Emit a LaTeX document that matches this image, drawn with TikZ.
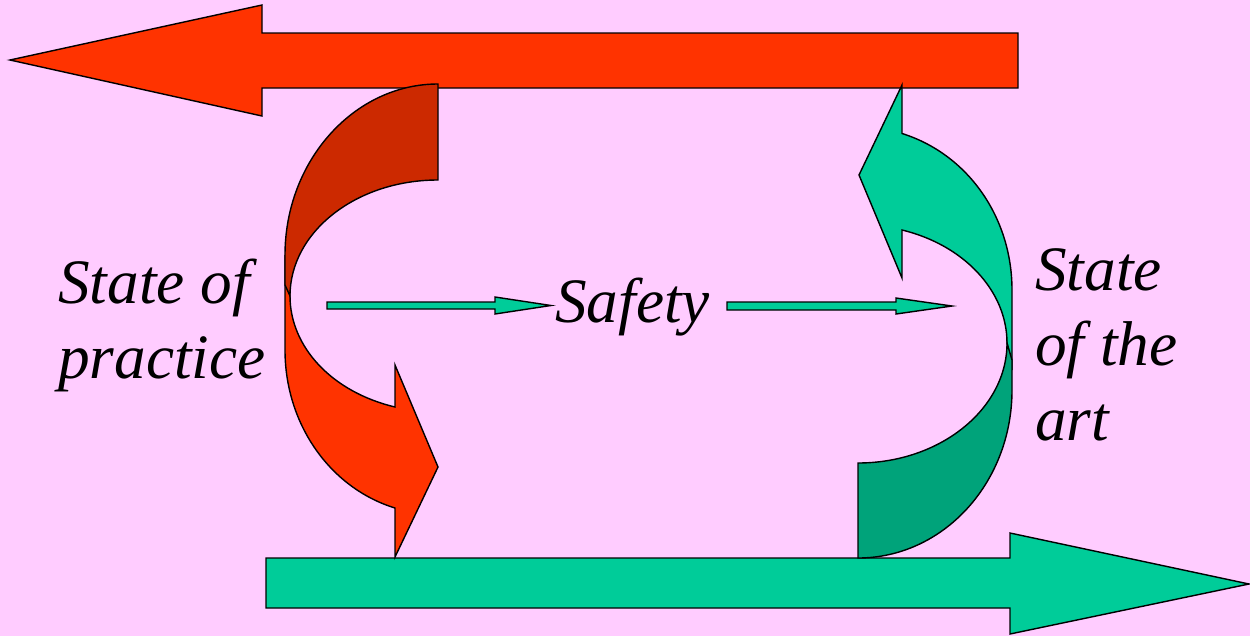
\documentclass[tikz,border=0pt]{standalone}
\usepackage{fontspec}
\setmainfont{Liberation Serif}
\usepackage{tikz}
\usetikzlibrary{calc}
\definecolor{PageBg}{HTML}{FFCCFF}
\definecolor{PracticeRed}{HTML}{FF3300}
\definecolor{PracticeDark}{HTML}{CC2900}
\definecolor{ArtGreen}{HTML}{00CC99}
\definecolor{ArtDark}{HTML}{00A37A}

\begin{document}
\begin{tikzpicture}[x=0.02cm,y=-0.02cm,
    block/.style={draw=black,line width=0.8pt,line join=miter},
    stage/.style={font=\fontsize{36}{42.5}\selectfont\itshape,
      inner sep=0pt,align=left,anchor=base west}
  ]
    \fill[PageBg] (0,0) rectangle (1250,636);
    \useasboundingbox (0,0) rectangle (1250,636);

    \filldraw[block,fill=PracticeRed] (1018,33) -- (262,33) -- (262,5)
      -- (10,60) -- (262,116) -- (262,88) -- (1018,88) -- cycle;
    \filldraw[block,fill=ArtGreen] (266,558) -- (1010,558) -- (1010,533)
      -- (1249,584) -- (1010,634) -- (1010,608) -- (266,608) -- cycle;

    \filldraw[block,fill=PracticeRed] (290,296)
      .. controls (290,347) and (332,392) .. (395,407) -- (395,365)
      -- (438,467) -- (395,557) -- (395,508)
      .. controls (330,488) and (285,424) .. (285,350) -- (285,255) -- cycle;
    \filldraw[block,fill=PracticeDark] (438,84)
      .. controls (354,84) and (285,161) .. (285,255) -- (285,285)
      -- (290,296) .. controls (290,232) and (356,180) .. (438,180) -- cycle;

    \filldraw[block,fill=ArtGreen] (902,133.5) -- (902,85) -- (859,175)
      -- (902,278) -- (902,230)
      .. controls (964,245) and (1007,291) .. (1007,343) -- (1012,370)
      -- (1012,290) .. controls (1012,217) and (967.5,154) .. (902,133.5) -- cycle;
    \filldraw[block,fill=ArtDark] (858,463)
      .. controls (940,463) and (1007,409) .. (1007,343) -- (1012,360)
      -- (1012,390) .. controls (1012,483) and (943,558) .. (858,558) -- cycle;

    \node[stage] (practice) at (58,378) {State of\\practice};
    \node[stage] (safety) at (555,322) {Safety};
    \node[stage] (art) at (1035,440) {State\\of the\\art};

    \filldraw[block,fill=ArtGreen] (327,302) -- (495,302) -- (495,297)
      -- (551,305.5) -- (495,314) -- (495,309) -- (327,309) -- cycle;
    \filldraw[block,fill=ArtGreen] (727,302) -- (896,302) -- (896,298)
      -- (952,306) -- (896,314) -- (896,310) -- (727,310) -- cycle;
  \end{tikzpicture}
\end{document}
